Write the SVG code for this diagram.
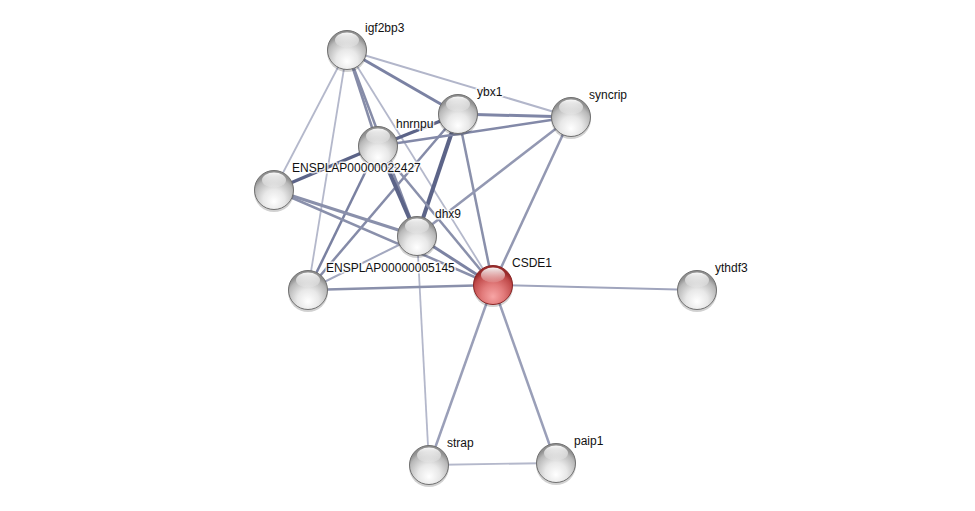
<svg xmlns="http://www.w3.org/2000/svg" width="975" height="511" viewBox="0 0 975 511">
<style>
.e{fill:none;stroke-linecap:butt}
.l{font-family:"Liberation Sans",Arial,sans-serif;font-size:12px;fill:#111;stroke:#fff;stroke-width:3px;stroke-opacity:0.8;paint-order:stroke;stroke-linejoin:round}
.b{fill:url(#gg);stroke:#707070;stroke-width:1}
.r{fill:url(#gr);stroke:#8a2626;stroke-width:1}
.h{fill:url(#hl)}
.s{fill:#000;opacity:0.18}
</style>
<defs>
<radialGradient id="gg" cx="50%" cy="72%" r="62%" fx="50%" fy="80%">
<stop offset="0" stop-color="#ffffff"/>
<stop offset="0.45" stop-color="#e8e8e8"/>
<stop offset="0.85" stop-color="#b8b8b8"/>
<stop offset="1" stop-color="#909090"/>
</radialGradient>
<radialGradient id="gr" cx="50%" cy="72%" r="62%" fx="50%" fy="80%">
<stop offset="0" stop-color="#f7a5a5"/>
<stop offset="0.45" stop-color="#e27b7b"/>
<stop offset="0.85" stop-color="#c04a4a"/>
<stop offset="1" stop-color="#982a2a"/>
</radialGradient>
<linearGradient id="hl" x1="0" y1="0" x2="0" y2="1">
<stop offset="0" stop-color="#fff" stop-opacity="0.95"/>
<stop offset="1" stop-color="#fff" stop-opacity="0.1"/>
</linearGradient>
</defs>
<rect width="975" height="511" fill="#fff"/>
<g id="edges" class="e">
<line x1="347" y1="50" x2="458" y2="114" stroke="#7b82a3" stroke-width="3"/>
<line x1="347" y1="50" x2="571" y2="117" stroke="#b2b6ca" stroke-width="2"/>
<line x1="347" y1="50" x2="378" y2="146" stroke="#868ca8" stroke-width="2.5"/>
<line x1="347" y1="50" x2="417" y2="236" stroke="#868ca8" stroke-width="2.5"/>
<line x1="347" y1="50" x2="274" y2="190" stroke="#b4b8cb" stroke-width="1.8"/>
<line x1="347" y1="50" x2="308" y2="290" stroke="#b4b8cb" stroke-width="1.8"/>
<line x1="347" y1="50" x2="493" y2="285" stroke="#b4b8cb" stroke-width="1.8"/>
<line x1="458" y1="114" x2="571" y2="117" stroke="#7f86a6" stroke-width="3"/>
<line x1="458" y1="114" x2="378" y2="146" stroke="#5c6488" stroke-width="3.5"/>
<line x1="458" y1="114" x2="417" y2="236" stroke="#5c6488" stroke-width="4"/>
<line x1="458" y1="114" x2="493" y2="285" stroke="#8a90ab" stroke-width="2.5"/>
<line x1="458" y1="114" x2="308" y2="290" stroke="#858ba8" stroke-width="2.5"/>
<line x1="571" y1="117" x2="378" y2="146" stroke="#8389a8" stroke-width="2.5"/>
<line x1="571" y1="117" x2="417" y2="236" stroke="#9398b2" stroke-width="2.5"/>
<line x1="571" y1="117" x2="493" y2="285" stroke="#9398b2" stroke-width="2.5"/>
<line x1="378" y1="146" x2="274" y2="190" stroke="#5c6488" stroke-width="3.5"/>
<line x1="378" y1="146" x2="417" y2="236" stroke="#5c6488" stroke-width="4"/>
<line x1="378" y1="146" x2="308" y2="290" stroke="#7a81a1" stroke-width="2.5"/>
<line x1="378" y1="146" x2="493" y2="285" stroke="#8a90ab" stroke-width="2.5"/>
<line x1="274" y1="190" x2="417" y2="236" stroke="#8a90ab" stroke-width="3"/>
<line x1="274" y1="190" x2="493" y2="285" stroke="#8a90ab" stroke-width="2.5"/>
<line x1="417" y1="236" x2="308" y2="290" stroke="#a3a8bf" stroke-width="2"/>
<line x1="417" y1="236" x2="493" y2="285" stroke="#7c83a3" stroke-width="3"/>
<line x1="417" y1="236" x2="429" y2="465" stroke="#b4b8cb" stroke-width="1.8"/>
<line x1="308" y1="290" x2="493" y2="285" stroke="#8a90ab" stroke-width="2.5"/>
<line x1="493" y1="285" x2="697" y2="290" stroke="#a0a5bd" stroke-width="2"/>
<line x1="493" y1="285" x2="429" y2="465" stroke="#9a9fb8" stroke-width="2.5"/>
<line x1="493" y1="285" x2="556" y2="463" stroke="#9a9fb8" stroke-width="2.5"/>
<line x1="429" y1="465" x2="556" y2="463" stroke="#b4b8cb" stroke-width="1.8"/>
</g>
<g id="igf2bp3"><circle class="s" cx="347" cy="52" r="20"/><circle class="b" cx="347" cy="50" r="19.5"/><ellipse class="h" cx="347" cy="40" rx="12" ry="7.5"/><text class="l" x="365" y="32">igf2bp3</text></g>
<g id="ybx1"><circle class="s" cx="458" cy="116" r="20"/><circle class="b" cx="458" cy="114" r="19.5"/><ellipse class="h" cx="458" cy="104" rx="12" ry="7.5"/><text class="l" x="477" y="96">ybx1</text></g>
<g id="syncrip"><circle class="s" cx="571" cy="119" r="20"/><circle class="b" cx="571" cy="117" r="19.5"/><ellipse class="h" cx="571" cy="107" rx="12" ry="7.5"/><text class="l" x="589" y="99">syncrip</text></g>
<g id="hnrnpu"><circle class="s" cx="378" cy="148" r="20"/><circle class="b" cx="378" cy="146" r="19.5"/><ellipse class="h" cx="378" cy="136" rx="12" ry="7.5"/><text class="l" x="396" y="128">hnrnpu</text></g>
<g id="ENSPLAP00000022427"><circle class="s" cx="274" cy="192" r="20"/><circle class="b" cx="274" cy="190" r="19.5"/><ellipse class="h" cx="274" cy="180" rx="12" ry="7.5"/><text class="l" x="292" y="172">ENSPLAP00000022427</text></g>
<g id="dhx9"><circle class="s" cx="417" cy="238" r="20"/><circle class="b" cx="417" cy="236" r="19.5"/><ellipse class="h" cx="417" cy="226" rx="12" ry="7.5"/><text class="l" x="435" y="218">dhx9</text></g>
<g id="ENSPLAP00000005145"><circle class="s" cx="308" cy="292" r="20"/><circle class="b" cx="308" cy="290" r="19.5"/><ellipse class="h" cx="308" cy="280" rx="12" ry="7.5"/><text class="l" x="326" y="272">ENSPLAP00000005145</text></g>
<g id="CSDE1"><circle class="s" cx="493" cy="287" r="20"/><circle class="r" cx="493" cy="285" r="19.5"/><ellipse class="h" cx="493" cy="275" rx="12" ry="7.5"/><text class="l" x="512" y="267">CSDE1</text></g>
<g id="ythdf3"><circle class="s" cx="697" cy="292" r="20"/><circle class="b" cx="697" cy="290" r="19.5"/><ellipse class="h" cx="697" cy="280" rx="12" ry="7.5"/><text class="l" x="715" y="272">ythdf3</text></g>
<g id="strap"><circle class="s" cx="429" cy="467" r="20"/><circle class="b" cx="429" cy="465" r="19.5"/><ellipse class="h" cx="429" cy="455" rx="12" ry="7.5"/><text class="l" x="447" y="447">strap</text></g>
<g id="paip1"><circle class="s" cx="556" cy="465" r="20"/><circle class="b" cx="556" cy="463" r="19.5"/><ellipse class="h" cx="556" cy="453" rx="12" ry="7.5"/><text class="l" x="574" y="445">paip1</text></g>
</svg>
